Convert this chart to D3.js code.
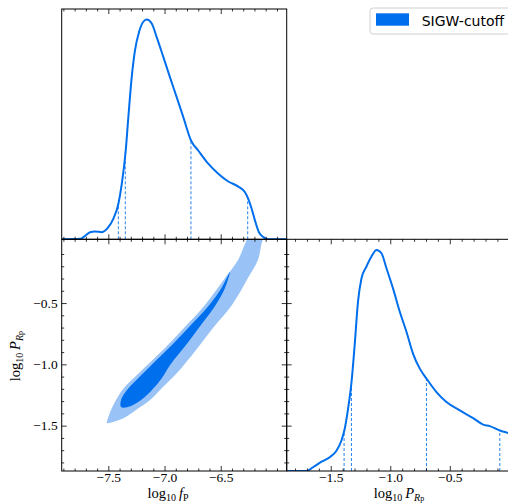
<!DOCTYPE html>
<html><head><meta charset="utf-8">
<script src="https://cdn.jsdelivr.net/npm/d3@7"></script>
<style>body{margin:0;background:#fff}svg{display:block}</style>
</head><body><svg id="c" width="508" height="503"></svg>
<script>
// ---------- data ----------
const fpGrid = [-7.915,-7.752,-7.663,-7.619,-7.559,-7.50,-7.456,-7.411,-7.381,-7.346,-7.322,-7.292,-7.263,-7.227,-7.189,-7.159,-7.114,-7.070,-7.011,-6.952,-6.892,-6.833,-6.765,-6.700,-6.611,-6.522,-6.433,-6.344,-6.284,-6.255,-6.225,-6.195,-6.160,-6.121,-6.077,-5.913];
const fpDens = [0,0.002,0.032,0.036,0.032,0.055,0.093,0.161,0.25,0.40,0.556,0.738,0.86,0.943,0.99,1.0,0.982,0.92,0.83,0.738,0.647,0.556,0.45,0.404,0.344,0.298,0.263,0.24,0.214,0.184,0.139,0.085,0.032,0.01,0,0];
const fpLimits = [-7.411,-7.349,-6.765,-6.260];
const fpLimitDens = [0.164,0.399,0.452,0.194];

const prGrid = [-1.87,-1.704,-1.649,-1.578,-1.509,-1.452,-1.410,-1.383,-1.355,-1.326,-1.299,-1.271,-1.242,-1.200,-1.158,-1.116,-1.074,-1.032,-0.977,-0.920,-0.864,-0.809,-0.752,-0.696,-0.612,-0.528,-0.416,-0.304,-0.220,-0.164,-0.080,-0.010,0.02];
const prDens = [0,0,0.017,0.042,0.062,0.092,0.138,0.19,0.28,0.40,0.57,0.766,0.871,0.925,0.97,1.0,0.985,0.917,0.826,0.72,0.63,0.531,0.463,0.418,0.357,0.312,0.274,0.239,0.21,0.203,0.183,0.172,0.167];
const prLimits = [-1.388,-1.326,-0.696,-0.080];
const prLimitDens = [0.171,0.389,0.426,0.185];

// 2D contours (log10 fP, log10 P_Rp)
const outerFp = [-7.512,-7.503,-7.476,-7.432,-7.361,-7.227,-7.014,-6.827,-6.640,-6.462,-6.346,-6.266,-6.213,-6.062,-6.124,-6.169,-6.258,-6.400,-6.569,-6.720,-6.889,-7.023,-7.129,-7.254,-7.361,-7.459];
const outerPr = [-1.478,-1.438,-1.372,-1.291,-1.193,-1.071,-0.883,-0.703,-0.516,-0.296,-0.149,0.02,0.096,0.096,0.02,-0.149,-0.296,-0.516,-0.703,-0.883,-1.071,-1.193,-1.291,-1.372,-1.438,-1.470];
const innerFp = [-6.418,-6.493,-6.609,-6.765,-6.934,-7.116,-7.232,-7.334,-7.387,-7.387,-7.325,-7.209,-7.112,-7.023,-6.951,-6.809,-6.676,-6.551,-6.462];
const innerPr = [-0.247,-0.377,-0.524,-0.679,-0.842,-1.005,-1.111,-1.209,-1.291,-1.348,-1.348,-1.291,-1.209,-1.111,-1.005,-0.842,-0.679,-0.524,-0.377];

const fpTicks = [-7.5,-7.0,-6.5];
const prTicks = [-1.5,-1.0,-0.5];
const legendLabel = "SIGW-cutoff";

// ---------- layout ----------
const L=61.7, M=286.7, R=511.7, T=9, MY=239.3, B=471;
const C_LINE="#006FED", C_OUT="#99c3f6", C_IN="#006FED";
const svg=d3.select("#c");
const xF=d3.scaleLinear([-7.915,-5.913],[L,M]);
const xP=d3.scaleLinear([-1.87,0.02],[M,R]);
const yP=d3.scaleLinear([-1.87,0.02],[B,MY]);
const yD1=d3.scaleLinear([0,1.048],[MY,T]);
const yD2=d3.scaleLinear([0,1.048],[B,MY]);

const defs=svg.append("defs");
function clip(id,x,y,w,h){defs.append("clipPath").attr("id",id).append("rect").attr("x",x).attr("y",y).attr("width",w).attr("height",h);}
clip("c1",L,T,M-L,MY-T); clip("c2",L,MY,M-L,B-MY); clip("c3",M,MY,R-M,B-MY);

// ---- top-left 1D ----
const g1=svg.append("g").attr("clip-path","url(#c1)");
g1.selectAll("line.lim").data(fpLimits).join("line")
 .attr("x1",d=>xF(d)).attr("x2",d=>xF(d)).attr("y1",yD1(0)).attr("y2",(d,i)=>yD1(fpLimitDens[i]))
 .attr("stroke",C_LINE).attr("stroke-width",1).attr("stroke-dasharray","3,2").attr("opacity",0.85);
g1.append("path").datum(fpGrid.map((v,i)=>[v,fpDens[i]]))
 .attr("d",d3.line().x(d=>xF(d[0])).y(d=>yD1(d[1])).curve(d3.curveMonotoneX))
 .attr("fill","none").attr("stroke",C_LINE).attr("stroke-width",2);

// ---- bottom-left 2D ----
const g2=svg.append("g").attr("clip-path","url(#c2)");
const area2=d3.line().x(d=>xF(d[0])).y(d=>yP(d[1])).curve(d3.curveCatmullRomClosed.alpha(0.5));
g2.append("path").datum(outerFp.map((v,i)=>[v,outerPr[i]])).attr("d",area2).attr("fill",C_OUT);
g2.append("path").datum(innerFp.map((v,i)=>[v,innerPr[i]])).attr("d",area2).attr("fill",C_IN);

// ---- bottom-right 1D ----
const g3=svg.append("g").attr("clip-path","url(#c3)");
g3.selectAll("line.lim").data(prLimits).join("line")
 .attr("x1",d=>xP(d)).attr("x2",d=>xP(d)).attr("y1",yD2(0)).attr("y2",(d,i)=>yD2(prLimitDens[i]))
 .attr("stroke",C_LINE).attr("stroke-width",1).attr("stroke-dasharray","3,2").attr("opacity",0.85);
g3.append("path").datum(prGrid.map((v,i)=>[v,prDens[i]]))
 .attr("d",d3.line().x(d=>xP(d[0])).y(d=>yD2(d[1])).curve(d3.curveMonotoneX))
 .attr("fill","none").attr("stroke",C_LINE).attr("stroke-width",2);

// ---- axes ----
const fpMinor=d3.range(-7.9,-5.95,0.1).map(v=>+v.toFixed(1)).filter(v=>!fpTicks.includes(v));
const prMinor=d3.range(-1.8,-0.05,0.1).map(v=>+v.toFixed(1)).filter(v=>!prTicks.includes(v));
const fmt=d3.format(".1f");
const serif="'Liberation Serif','DejaVu Serif',serif";
function ax(axisGen,scale,tx,ty,majors,minors,labels){
  const gM=svg.append("g").attr("transform",`translate(${tx},${ty})`)
   .call(axisGen(scale).tickValues(majors).tickSize(-5).tickPadding(labels?1:0).tickFormat(labels?fmt:""));
  const gm=svg.append("g").attr("transform",`translate(${tx},${ty})`)
   .call(axisGen(scale).tickValues(minors).tickSize(-2.5).tickFormat(""));
  [gM,gm].forEach(g=>{g.select(".domain").remove();g.selectAll(".tick line").attr("stroke","#000").attr("stroke-width",0.8);});
  gM.attr("font-family",serif).attr("font-size",13.5);
  gM.selectAll(".tick text").attr("font-family",serif).attr("font-size",13.5).attr("fill","#000");
  return gM;
}
// top-left panel
ax(d3.axisTop,xF,0,T,fpTicks,fpMinor,false);
ax(d3.axisBottom,xF,0,MY,fpTicks,fpMinor,false);
// bottom-left
ax(d3.axisTop,xF,0,MY,fpTicks,fpMinor,false);
ax(d3.axisBottom,xF,0,B,fpTicks,fpMinor,true);
ax(d3.axisLeft,yP,L,0,prTicks,prMinor,true).selectAll(".tick text").attr("x",-4);
ax(d3.axisRight,yP,M,0,prTicks,prMinor,false);
// bottom-right
ax(d3.axisLeft,yP,M,0,prTicks,prMinor,false);
ax(d3.axisTop,xP,0,MY,prTicks,prMinor,false);
ax(d3.axisBottom,xP,0,B,prTicks,prMinor,true);

// frames
const frames=[[L,T,M-L,MY-T],[L,MY,M-L,B-MY],[M,MY,R-M,B-MY]];
svg.selectAll("rect.fr").data(frames).join("rect").attr("x",d=>d[0]).attr("y",d=>d[1]).attr("width",d=>d[2]).attr("height",d=>d[3])
 .attr("fill","none").attr("stroke","#000").attr("stroke-width",1);

// axis titles
function title(x,y,rot,parts){
  const t=svg.append("text").attr("transform",`translate(${x},${y}) rotate(${rot})`).attr("text-anchor","middle")
   .attr("font-family",serif).attr("font-size",14.5).attr("fill","#000");
  parts.forEach(p=>{const s=t.append("tspan").text(p.t);if(p.i)s.attr("font-style","italic");if(p.dy)s.attr("dy",p.dy);if(p.fs)s.attr("font-size",p.fs);});
}
title(168,497.5,0,[{t:"log"},{t:"10",dy:3,fs:10},{t:"\u2009"},{t:"f",i:1,dy:-3},{t:"P",dy:3,fs:10}]);
title(399,497.5,0,[{t:"log"},{t:"10",dy:3,fs:10},{t:"\u2009"},{t:"P",i:1,dy:-3},{t:"R",i:1,dy:3,fs:10},{t:"p",fs:8}]);
title(19.5,(MY+B)/2+1,-90,[{t:"log"},{t:"10",dy:3,fs:10},{t:"\u2009"},{t:"P",i:1,dy:-3},{t:"R",i:1,dy:3,fs:10},{t:"p",fs:8}]);

// legend
const lg=svg.append("g");
lg.append("rect").attr("x",370).attr("y",8).attr("width",150).attr("height",26).attr("rx",3)
 .attr("fill","#fff").attr("stroke","#d0d0d0").attr("stroke-width",1);
lg.append("rect").attr("x",376).attr("y",13.3).attr("width",33).attr("height",12.4).attr("fill",C_IN);
lg.append("text").attr("x",421.7).attr("y",25.5).attr("font-family","'DejaVu Sans',sans-serif").attr("font-size",14).attr("fill","#000").text(legendLabel);
</script></body></html>
